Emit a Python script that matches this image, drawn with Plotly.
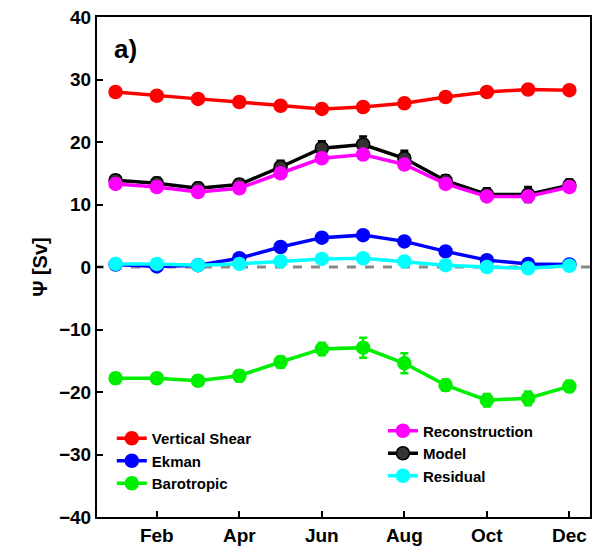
import plotly.graph_objects as go

months = list(range(1, 13))
tick_vals = [2, 4, 6, 8, 10, 12]
tick_text = ["Feb", "Apr", "Jun", "Aug", "Oct", "Dec"]

vshear = [28.0, 27.4, 26.9, 26.4, 25.8, 25.3, 25.6, 26.2, 27.2, 28.0, 28.4, 28.3]
ekman = [0.4, 0.1, 0.3, 1.4, 3.2, 4.7, 5.1, 4.1, 2.5, 1.1, 0.5, 0.4]
barotropic = [-17.8, -17.8, -18.2, -17.4, -15.2, -13.1, -12.9, -15.4, -18.9, -21.3, -21.0, -19.1]
recon = [13.3, 12.8, 12.0, 12.6, 15.0, 17.4, 18.0, 16.4, 13.3, 11.3, 11.3, 12.8]
model = [13.9, 13.4, 12.6, 13.2, 16.0, 19.0, 19.6, 17.4, 13.8, 11.6, 11.6, 13.1]
model_err = [0.8, 0.9, 0.9, 0.8, 1.0, 1.1, 1.3, 1.2, 0.9, 1.0, 1.2, 0.9]
resid = [0.5, 0.5, 0.3, 0.5, 0.9, 1.3, 1.4, 0.9, 0.3, 0.0, -0.2, 0.2]
small_err = [0.6] * 12
baro_err = [0.8, 0.8, 0.8, 0.9, 0.9, 1.0, 1.6, 1.6, 0.9, 1.0, 1.1, 0.9]

fig = go.Figure()
fig.add_trace(go.Scatter(x=[0.5, 12.6], y=[0, 0], mode="lines",
                         line=dict(color="#888888", width=3, dash="dash"), showlegend=False))

def add(name, y, color, err, legend, rank, mcolor=None):
    fig.add_trace(go.Scatter(
        x=months, y=y, name=name, mode="lines+markers", legend=legend, legendrank=rank,
        line=dict(color=color, width=3.5),
        marker=dict(size=13, color=mcolor or color, line=dict(color=color, width=1.5)),
        error_y=dict(type="data", array=err, color=color, thickness=2.5, width=4)))

add("Vertical Shear", vshear, "#ff0000", small_err, "legend", 1)
add("Ekman", ekman, "#0000ff", small_err, "legend", 2)
add("Barotropic", barotropic, "#00ee00", baro_err, "legend", 3)
add("Model", model, "#000000", model_err, "legend2", 2, mcolor="#333333")
add("Reconstruction", recon, "#ff00ff", small_err, "legend2", 1)
add("Residual", resid, "#00ffff", small_err, "legend2", 3)

fig.add_annotation(x=0.03, y=0.97, xref="paper", yref="paper", text="<b>a)</b>",
                   showarrow=False, xanchor="left", yanchor="top",
                   font=dict(size=26, color="black"))

axis_common = dict(showline=True, linewidth=2, linecolor="black", mirror=True,
                   ticks="inside", ticklen=6, tickwidth=2, tickcolor="black",
                   showgrid=False, zeroline=False, automargin=False,
                   tickfont=dict(size=19, family="Liberation Sans", color="black", weight="bold"))
fig.update_xaxes(range=[0.55, 12.5], tickvals=tick_vals, ticktext=tick_text, **axis_common)
fig.update_yaxes(range=[-40, 40], tickvals=list(range(-40, 41, 10)),
                 title=dict(text="<b>Ψ [Sv]</b>", standoff=6,
                 font=dict(size=20, family="Liberation Sans", color="black")), **axis_common)

legfont = dict(size=15, family="Liberation Sans", color="black", weight="bold")
fig.update_layout(
    width=597, height=552, margin=dict(l=97, r=7, t=17, b=35, autoexpand=False),
    plot_bgcolor="white", paper_bgcolor="white",
    font=dict(family="Liberation Sans", weight="bold"),
    legend=dict(x=0.03, y=0.19, xanchor="left", yanchor="top", bgcolor="rgba(0,0,0,0)",
                font=legfont, tracegroupgap=0, traceorder="normal"),
    legend2=dict(x=0.58, y=0.205, xanchor="left", yanchor="top", bgcolor="rgba(0,0,0,0)",
                 font=legfont, tracegroupgap=0, traceorder="normal"),
)
fig.write_html("out.html", config={"displayModeBar": False})

with open("out.html", encoding="utf-8") as f:
    html = f.read()
html = html.replace("<body>", '<body style="margin:0;padding:0;overflow:hidden">', 1)
with open("out.html", "w", encoding="utf-8") as f:
    f.write(html)
